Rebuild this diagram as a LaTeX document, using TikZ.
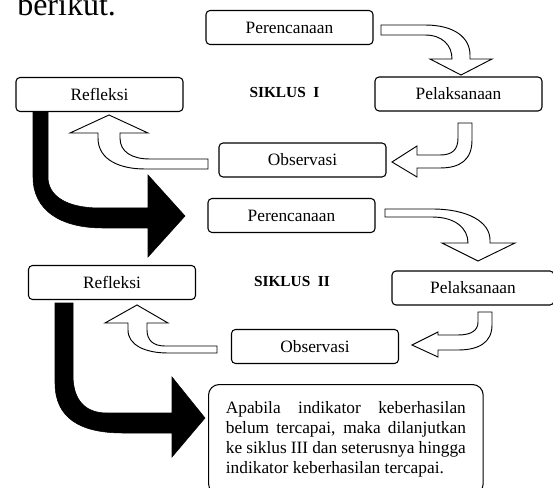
\documentclass[tikz,border=0pt]{standalone}
\usepackage{fontspec}
\setmainfont{Liberation Serif}
\tikzset{box/.style={draw,rounded corners=3pt,line width=0.8pt,minimum width=125.25pt,minimum height=25.5pt,inner sep=0pt,font=\fontsize{13}{15}\selectfont},
         siklus/.style={font=\fontsize{11.5}{14}\selectfont\bfseries},
         note/.style={draw,rounded corners=8pt,line width=0.8pt,text width=180pt,inner xsep=13pt,inner ysep=12.8pt,align=justify,font=\fontsize{13}{15}\selectfont,
                      execute at begin node={\tolerance=10000\hyphenpenalty=10000}},
         hollow/.style={draw,fill=white,line width=0.7pt},
         blackarrow/.style={draw,fill=black,line width=0.4pt},
         }

\begin{document}
\begin{tikzpicture}[x=0.75pt,y=-0.75pt]
	\useasboundingbox (0,0) rectangle (553,488);
	\node[anchor=base west,inner sep=0pt,font=\fontsize{24}{28}\selectfont] (berikut) at (17,16) {berikut.};
	% siklus I
	\node[box] (per1) at (289.5,27.5) {Perencanaan};
	\node[box] (ref1) at (99.5,94.5) {Refleksi};
	\node[box] (pel1) at (458.5,94) {Pelaksanaan};
	\node[box] (obs1) at (302.5,160) {Observasi};
	\node[siklus] (judul1) at (284.5,93) {SIKLUS\ \ I};
	\path[hollow] (381,25) -- (425,25) .. controls (455,25) and (470,38) .. (470,55) -- (470,59) -- (492,59) -- (461,75) -- (430,59) -- (452,59)
		.. controls (452,45) and (442,35) .. (425,35) -- (381,35) -- cycle;
	\path[hollow] (458,123) -- (472,123) -- (472,140) .. controls (472,160) and (460,168) .. (440,168) -- (417,168) -- (417,177) -- (392,162) -- (417,146) -- (417,155)
		-- (440,155) .. controls (452,155) and (458,150) .. (458,138) -- cycle;
	\path[hollow] (208,159) -- (150,159) .. controls (132,159) and (120,152) .. (120,138) -- (120,133) -- (148,133) -- (109,115) -- (70,133) -- (98,133) -- (98,138)
		.. controls (98,160) and (120,169) .. (145,169) -- (208,169) -- cycle;
	\path[blackarrow] (33,112) -- (33,177) .. controls (33,210) and (60,228) .. (103,228) -- (148,228) -- (148,257) -- (185,216) -- (148,175) -- (148,208) -- (100,208)
		.. controls (65,208) and (48,195) .. (48,177) -- (48,112) -- cycle;
	% siklus II
	\node[box] (per2) at (291.5,215.5) {Perencanaan};
	\node[box] (ref2) at (112,282.5) {Refleksi};
	\node[box,minimum width=121.5pt] (pel2) at (473,288) {Pelaksanaan};
	\node[box] (obs2) at (315,346.5) {Observasi};
	\node[siklus] (judul2) at (292,281) {SIKLUS\ \ II};
	\path[hollow] (385,209) -- (432,209) .. controls (468,209) and (490,222) .. (490,240) -- (490,243) -- (515,243) -- (478,261) -- (442,243) -- (468,243)
		.. controls (468,228) and (455,217) .. (432,217) -- (385,217) -- cycle;
	\path[hollow] (478,312) -- (492,312) -- (492,325) .. controls (492,343) and (478,350) .. (458,350) -- (438,350) -- (438,357) -- (412,345) -- (438,332) -- (438,335)
		-- (458,335) .. controls (472,335) and (478,330) .. (478,322) -- cycle;
	\path[hollow] (217,346) -- (165,346) .. controls (153,346) and (147,340) .. (147,330) -- (147,323) -- (168,323) -- (137,305) -- (105,323) -- (128,323) -- (128,330)
		.. controls (128,345) and (145,353) .. (168,353) -- (217,353) -- cycle;
	\path[blackarrow] (55,303) -- (55,383) .. controls (55,418) and (80,433) .. (123,433) -- (172,433) -- (172,457) -- (205,418) -- (172,377) -- (172,413) -- (107,413)
		.. controls (85,413) and (73,400) .. (73,375) -- (73,303) -- cycle;
	\node[note,anchor=north west] (akhir) at (208,384) {Apabila indikator keberhasilan\linebreak belum tercapai, maka dilanjutkan\linebreak ke siklus III dan seterusnya hingga\linebreak indikator keberhasilan tercapai.};
\end{tikzpicture}
\end{document}
